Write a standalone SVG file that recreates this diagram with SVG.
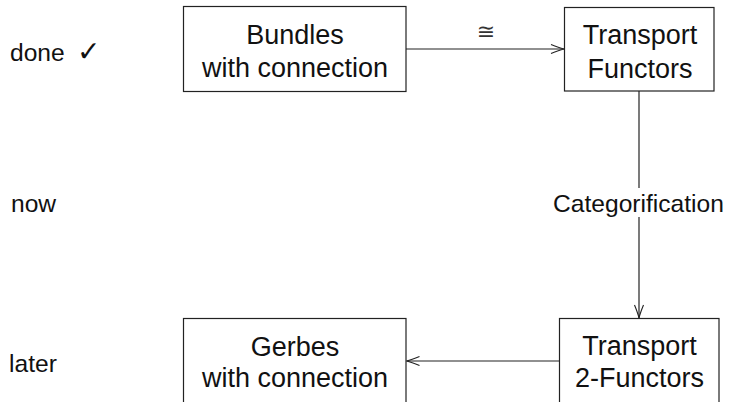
<svg xmlns="http://www.w3.org/2000/svg" width="729" height="402" viewBox="0 0 729 402">
<style>
.box{fill:#fff;stroke:#222;stroke-width:1.2}
.t{font-family:"Liberation Sans","DejaVu Sans",sans-serif;font-size:27px;fill:#111;text-anchor:middle}
.s{font-family:"Liberation Sans","DejaVu Sans",sans-serif;font-size:24.6px;fill:#111}
.c{fill:none;stroke:#222;stroke-width:1.2}
</style>
<defs>
<marker id="to" markerUnits="userSpaceOnUse" markerWidth="16" markerHeight="12" viewBox="-14 -6 16 12" refX="0" refY="0" orient="auto">
<path d="M-13,-4.5 Q-5,-1.2 0,0 Q-5,1.2 -13,4.5" fill="none" stroke="#222" stroke-width="1.1"/>
</marker>
</defs>
<rect width="729" height="402" fill="#fff"/>
<g id="stages">
<text class="s" x="10" y="60.5">done <tspan x="77" font-family="DejaVu Sans, sans-serif" font-size="28">✓</tspan></text>
<text class="s" x="11" y="211.7">now</text>
<text class="s" x="9" y="371.7">later</text>
</g>
<g id="connectors">
<line class="c" x1="406" y1="49" x2="564" y2="49" marker-end="url(#to)"/>
<line class="c" x1="639" y1="91" x2="639" y2="318" marker-end="url(#to)"/>
<line class="c" x1="559.5" y1="361" x2="406.5" y2="361" marker-end="url(#to)"/>
<text x="486" y="39" font-family="DejaVu Sans, sans-serif" font-size="22" fill="#333" text-anchor="middle">≅</text>
<rect x="553" y="188" width="172" height="29" fill="#fff"/>
<text class="s" x="638.5" y="211.7" text-anchor="middle">Categorification</text>
</g>
<g id="bundles">
<rect class="box" x="183.5" y="6.5" width="222.5" height="85"/>
<text class="t" x="295" y="44">Bundles</text>
<text class="t" x="295" y="77">with connection</text>
</g>
<g id="transport-functors">
<rect class="box" x="564.5" y="7.5" width="149.5" height="83.5"/>
<text class="t" x="640" y="43.5">Transport</text>
<text class="t" x="640" y="78">Functors</text>
</g>
<g id="gerbes">
<rect class="box" x="183.5" y="318.5" width="222.5" height="85"/>
<text class="t" x="295" y="355.5">Gerbes</text>
<text class="t" x="295" y="387">with connection</text>
</g>
<g id="transport-2-functors">
<rect class="box" x="559.5" y="318.5" width="159.5" height="85"/>
<text class="t" x="639.5" y="355">Transport</text>
<text class="t" x="639.5" y="387">2-Functors</text>
</g>
</svg>
